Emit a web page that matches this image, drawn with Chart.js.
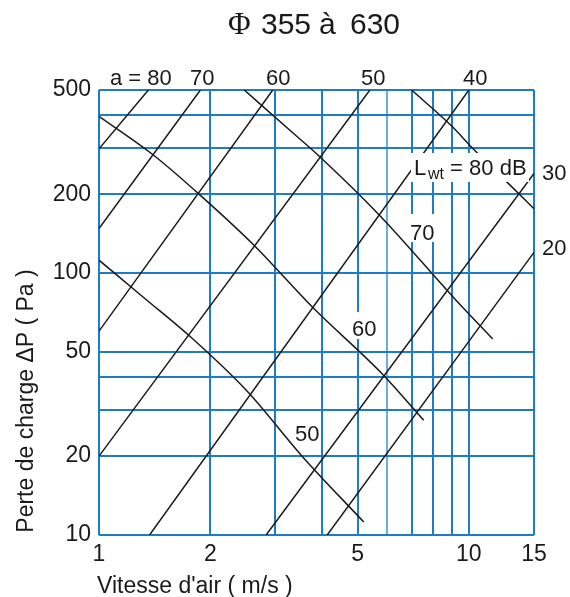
<!DOCTYPE html>
<html>
<head>
<meta charset="utf-8">
<title>Φ 355 à 630</title>
<script src="https://cdn.jsdelivr.net/npm/chart.js@4.4.1/dist/chart.umd.min.js"></script>
<style>
    html, body { margin: 0; padding: 0; background: #fff; }
    canvas { display: block; }
</style>
</head>
<body>
<canvas id="chart" width="570" height="597"></canvas>
<script>
// Axis ticks (log-log grid)
const speedTicks = [1, 2, 3, 4, 5, 6, 7, 8, 9, 10, 15];
const speedLabels = [1, 2, 5, 10, 15];
const lossTicks = [10, 20, 30, 40, 50, 100, 200, 300, 400, 500];
const lossLabels = [10, 20, 50, 100, 200, 500];

// "a" lines (rising), start / end points
const aValues = [80, 70, 60, 50, 40, 30, 20];
const aSpeed = [[1, 1.36], [1, 1.88], [1, 2.95], [1, 5.4], [1.37, 10], [2.83, 15], [4.14, 15]];
const aLoss = [[298, 500], [148, 500], [60, 500], [20, 500], [10, 500], [10, 240], [10, 120]];

// Lwt sound power lines (falling)
const lwtValues = [80, 70, 60, 50];
const lwtSpeed = [
    [7, 8.97, 10.3, 12.66, 15],
    [2.47, 3.4, 3.9, 5.74, 9.14, 11.6],
    [1, 1.4, 1.88, 2.62, 3.78, 5.85, 7.55],
    [1, 1.33, 1.77, 2.52, 3.54, 5.2]
];
const lwtLoss = [
    [500, 365, 297, 223, 176],
    [500, 336, 283, 166, 80, 56],
    [397, 283, 198, 128, 74, 41, 27.4],
    [112, 80, 57, 35.3, 20, 11.2]
];

const ink = "#1a1a1a";
const gridBlue = "#1c7cc6";
const sans = "'Liberation Sans', Arial, sans-serif";
const serif = "'Liberation Serif', 'Times New Roman', serif";

const datasets = [];
aValues.forEach((a, i) => {
    datasets.push({
        label: "a = " + a,
        data: aSpeed[i].map((v, j) => ({ x: v, y: aLoss[i][j] })),
        borderColor: ink,
        borderWidth: 1.5,
        pointRadius: 0,
        tension: 0
    });
});
lwtValues.forEach((l, i) => {
    datasets.push({
        label: "Lwt = " + l + " dB",
        data: lwtSpeed[i].map((v, j) => ({ x: v, y: lwtLoss[i][j] })),
        borderColor: ink,
        borderWidth: 1.5,
        pointRadius: 0,
        cubicInterpolationMode: "monotone"
    });
});

// Texts drawn on the canvas: title, axis titles, curve labels
const annotations = {
    id: "annotations",
    afterDatasetsDraw(chart) {
        const ctx = chart.ctx;
        ctx.save();
        ctx.fillStyle = ink;
        ctx.textBaseline = "alphabetic";
        ctx.textAlign = "left";

        // title
        ctx.font = "31px " + serif;
        ctx.fillText("Φ", 228, 34);
        ctx.font = "30px " + sans;
        ctx.fillText("355", 261, 34);
        ctx.fillText("à", 319, 34);
        ctx.fillText("630", 350, 34);

        // white boxes behind labels inside the plot
        ctx.fillStyle = "#fff";
        ctx.fillRect(411, 153, 118, 29);
        ctx.fillRect(408, 214, 30, 28);
        ctx.fillRect(349, 312, 32, 27);
        ctx.fillStyle = ink;

        ctx.font = "22px " + sans;
        const plain = [
            ["a = 80", 110, 85], ["70", 190, 85], ["60", 266, 85], ["50", 361, 85], ["40", 463, 85],
            ["30", 542, 180], ["20", 542, 255],
            ["70", 410, 240], ["60", 352, 336], ["50", 295, 441]
        ];
        plain.forEach(([t, x, y]) => ctx.fillText(t, x, y));

        // L_wt = 80 dB
        ctx.fillText("L", 414, 175);
        ctx.font = "16px " + sans;
        ctx.fillText("wt", 428, 179);
        ctx.font = "22px " + sans;
        ctx.fillText(" = 80 dB", 444, 175);

        // axis titles
        ctx.font = "23px " + sans;
        ctx.fillText("Vitesse d'air ( m/s )", 97, 593);
        ctx.translate(33, 401);
        ctx.rotate(-Math.PI / 2);
        ctx.textAlign = "center";
        ctx.fillText("Perte de charge ΔP ( Pa )", 0, 0);
        ctx.restore();
    }
};

new Chart(document.getElementById("chart"), {
    type: "line",
    data: { datasets: datasets },
    options: {
        responsive: false,
        animation: false,
        layout: { padding: { left: 0, top: 90, right: 36, bottom: 0 } },
        plugins: {
            legend: { display: false },
            tooltip: { enabled: false }
        },
        scales: {
            x: {
                type: "logarithmic",
                min: 1,
                max: 15,
                afterBuildTicks: scale => { scale.ticks = speedTicks.map(v => ({ value: v })); },
                afterFit: scale => { scale.height = 62; },
                ticks: {
                    callback: v => speedLabels.includes(v) ? String(v) : "",
                    autoSkip: false,
                    maxRotation: 0,
                    padding: 6,
                    color: ink,
                    font: { family: sans, size: 23 }
                },
                grid: {
                    color: c => (c.tick && c.tick.value === 6) ? "#6aaee2" : gridBlue,
                    lineWidth: 2,
                    drawTicks: false
                },
                border: { display: false }
            },
            y: {
                type: "logarithmic",
                min: 10,
                max: 500,
                afterBuildTicks: scale => { scale.ticks = lossTicks.map(v => ({ value: v })); },
                afterFit: scale => { scale.width = 99; },
                ticks: {
                    callback: v => lossLabels.includes(v) ? String(v) : "",
                    autoSkip: false,
                    padding: 8,
                    color: ink,
                    font: { family: sans, size: 23 }
                },
                grid: {
                    color: gridBlue,
                    lineWidth: 2,
                    drawTicks: false
                },
                border: { display: false }
            }
        }
    },
    plugins: [annotations]
});
</script>
</body>
</html>
